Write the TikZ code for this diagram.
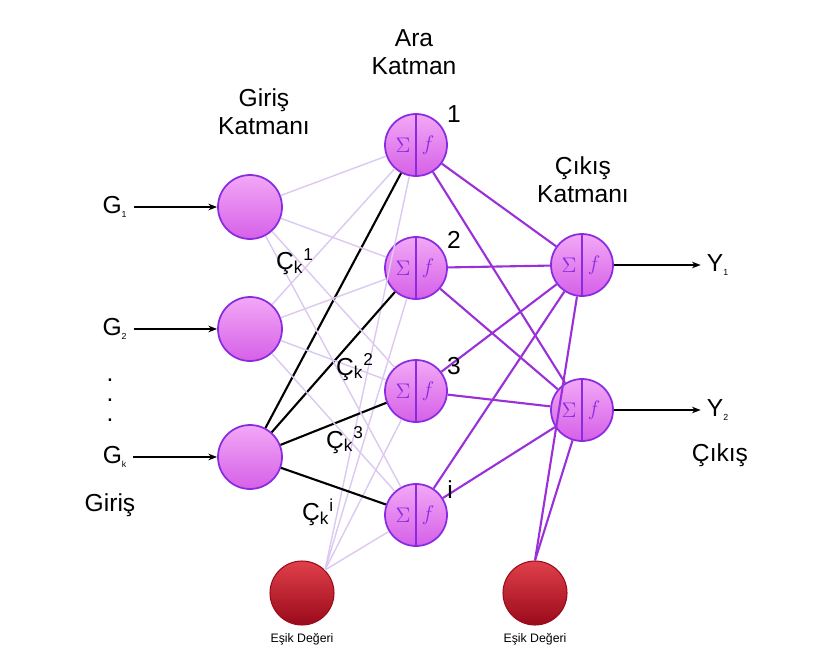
\documentclass[tikz,border=0pt]{standalone}
\usepackage{fontspec}
\setmainfont{Liberation Sans}
\usetikzlibrary{calc,arrows.meta,positioning}
\definecolor{nodetop}{HTML}{F2A8F6}
\definecolor{nodebot}{HTML}{D660E8}
\definecolor{nodeline}{HTML}{8A2BE2}
\definecolor{biastop}{HTML}{E0404A}
\definecolor{biasbot}{HTML}{9A0A1A}
\definecolor{faint}{HTML}{DCC8F0}
\definecolor{strong}{HTML}{9A30D8}
\tikzset{
  neuron/.style={circle, inner sep=0pt, draw=nodeline, line width=1pt,
    top color=nodetop, bottom color=nodebot},
  bias/.style={circle, minimum size=1.28cm, inner sep=0pt, draw=biasbot, line width=0.6pt,
    top color=biastop, bottom color=biasbot},
  faintw/.style={faint, line width=0.8pt},
  strongw/.style={strong, line width=1.2pt},
  inw/.style={-{Stealth[length=5pt]}, line width=0.8pt},
  lbl/.style={font=\fontsize{14}{16}\selectfont, align=center},
  sym/.style={nodeline, font=\large}
}
\begin{document}
\begin{tikzpicture}[x=0.02cm, y=-0.02cm]
  \useasboundingbox (0,0) rectangle (825,656);

  % Input layer
  \node[neuron, minimum size=1.28cm] (g1) at (250,207) {};
  \node[neuron, minimum size=1.28cm] (g2) at (250,329) {};
  \node[neuron, minimum size=1.28cm] (gk) at (250,457) {};

  % Hidden layer
  \foreach \n/\y in {h1/145, h2/268, h3/391, hi/515} {
    \node[neuron, minimum size=1.24cm] (\n) at (416,\y) {};
    \draw[nodeline, line width=1pt] (\n.north) -- (\n.south);
    \node[sym] at ($(\n)+(-13,0)$) {$\Sigma$};
    \node[sym] at ($(\n)+(12,0)$) {$f$};
  }

  % Output layer
  \foreach \n/\y in {y1/265, y2/410} {
    \node[neuron, minimum size=1.24cm] (\n) at (582,\y) {};
    \draw[nodeline, line width=1pt] (\n.north) -- (\n.south);
    \node[sym] at ($(\n)+(-13,0)$) {$\Sigma$};
    \node[sym] at ($(\n)+(12,0)$) {$f$};
  }

  % Bias nodes
  \node[bias] (b1) at (302,593) {};
  \node[bias] (b2) at (535,593) {};
  \node[font=\fontsize{7}{8}\selectfont, below=1pt of b1] {Eşik Değeri};
  \node[font=\fontsize{7}{8}\selectfont, below=1pt of b2] {Eşik Değeri};

  % Connections
  \foreach \h in {h1,h2,h3,hi} {
    \draw[faintw] (g1) -- (\h);
    \draw[faintw] (g2) -- (\h);
    \draw[faintw] (b1.north east) -- (\h);
    \draw[black, line width=1.2pt] (gk) -- (\h);
    \draw[strongw] (\h) -- (y1);
    \draw[strongw] (\h) -- (y2);
  }
  \draw[strongw] (b2.north) -- (y1);
  \draw[strongw] (b2.north) -- (y2);

  % Inputs and outputs
  \node[lbl] (t1) at (115,207) {G\textsubscript{\tiny 1}};
  \node[lbl] (t2) at (115,329) {G\textsubscript{\tiny 2}};
  \node[lbl] (tk) at (115,457) {G\textsubscript{\tiny k}};
  \draw[inw] (t1.east) -- (g1);
  \draw[inw] (t2.east) -- (g2);
  \draw[inw] (tk.east) -- (gk);
  \node[lbl] (o1) at (718,265) {Y\textsubscript{\tiny 1}};
  \node[lbl] (o2) at (718,410) {Y\textsubscript{\tiny 2}};
  \draw[inw] (y1) -- (o1.west);
  \draw[inw] (y2) -- (o2.west);
  \foreach \y in {380,400,420} \node[lbl, inner sep=0pt, text height=2pt, text depth=0pt] at (110,\y) {.};

  % Texts
  \node[lbl] at (110,505) {Giriş};
  \node[lbl] at (720,455) {Çıkış};
  \node[lbl] at (264,112) {Giriş\\Katmanı};
  \node[lbl] at (414,52) {Ara\\Katman};
  \node[lbl] at (583,180) {Çıkış\\Katmanı};
  \node[lbl] at (454,114) {1};
  \node[lbl] at (454,240) {2};
  \node[lbl] at (454,366) {3};
  \node[lbl] at (450,490) {i};
  \node[lbl] at (295,262) {Ç\textsubscript{k}\textsuperscript{1}};
  \node[lbl] at (355,367) {Ç\textsubscript{k}\textsuperscript{2}};
  \node[lbl] at (345,440) {Ç\textsubscript{k}\textsuperscript{3}};
  \node[lbl] at (318,512) {Ç\textsubscript{k}\textsuperscript{i}};
\end{tikzpicture}
\end{document}
